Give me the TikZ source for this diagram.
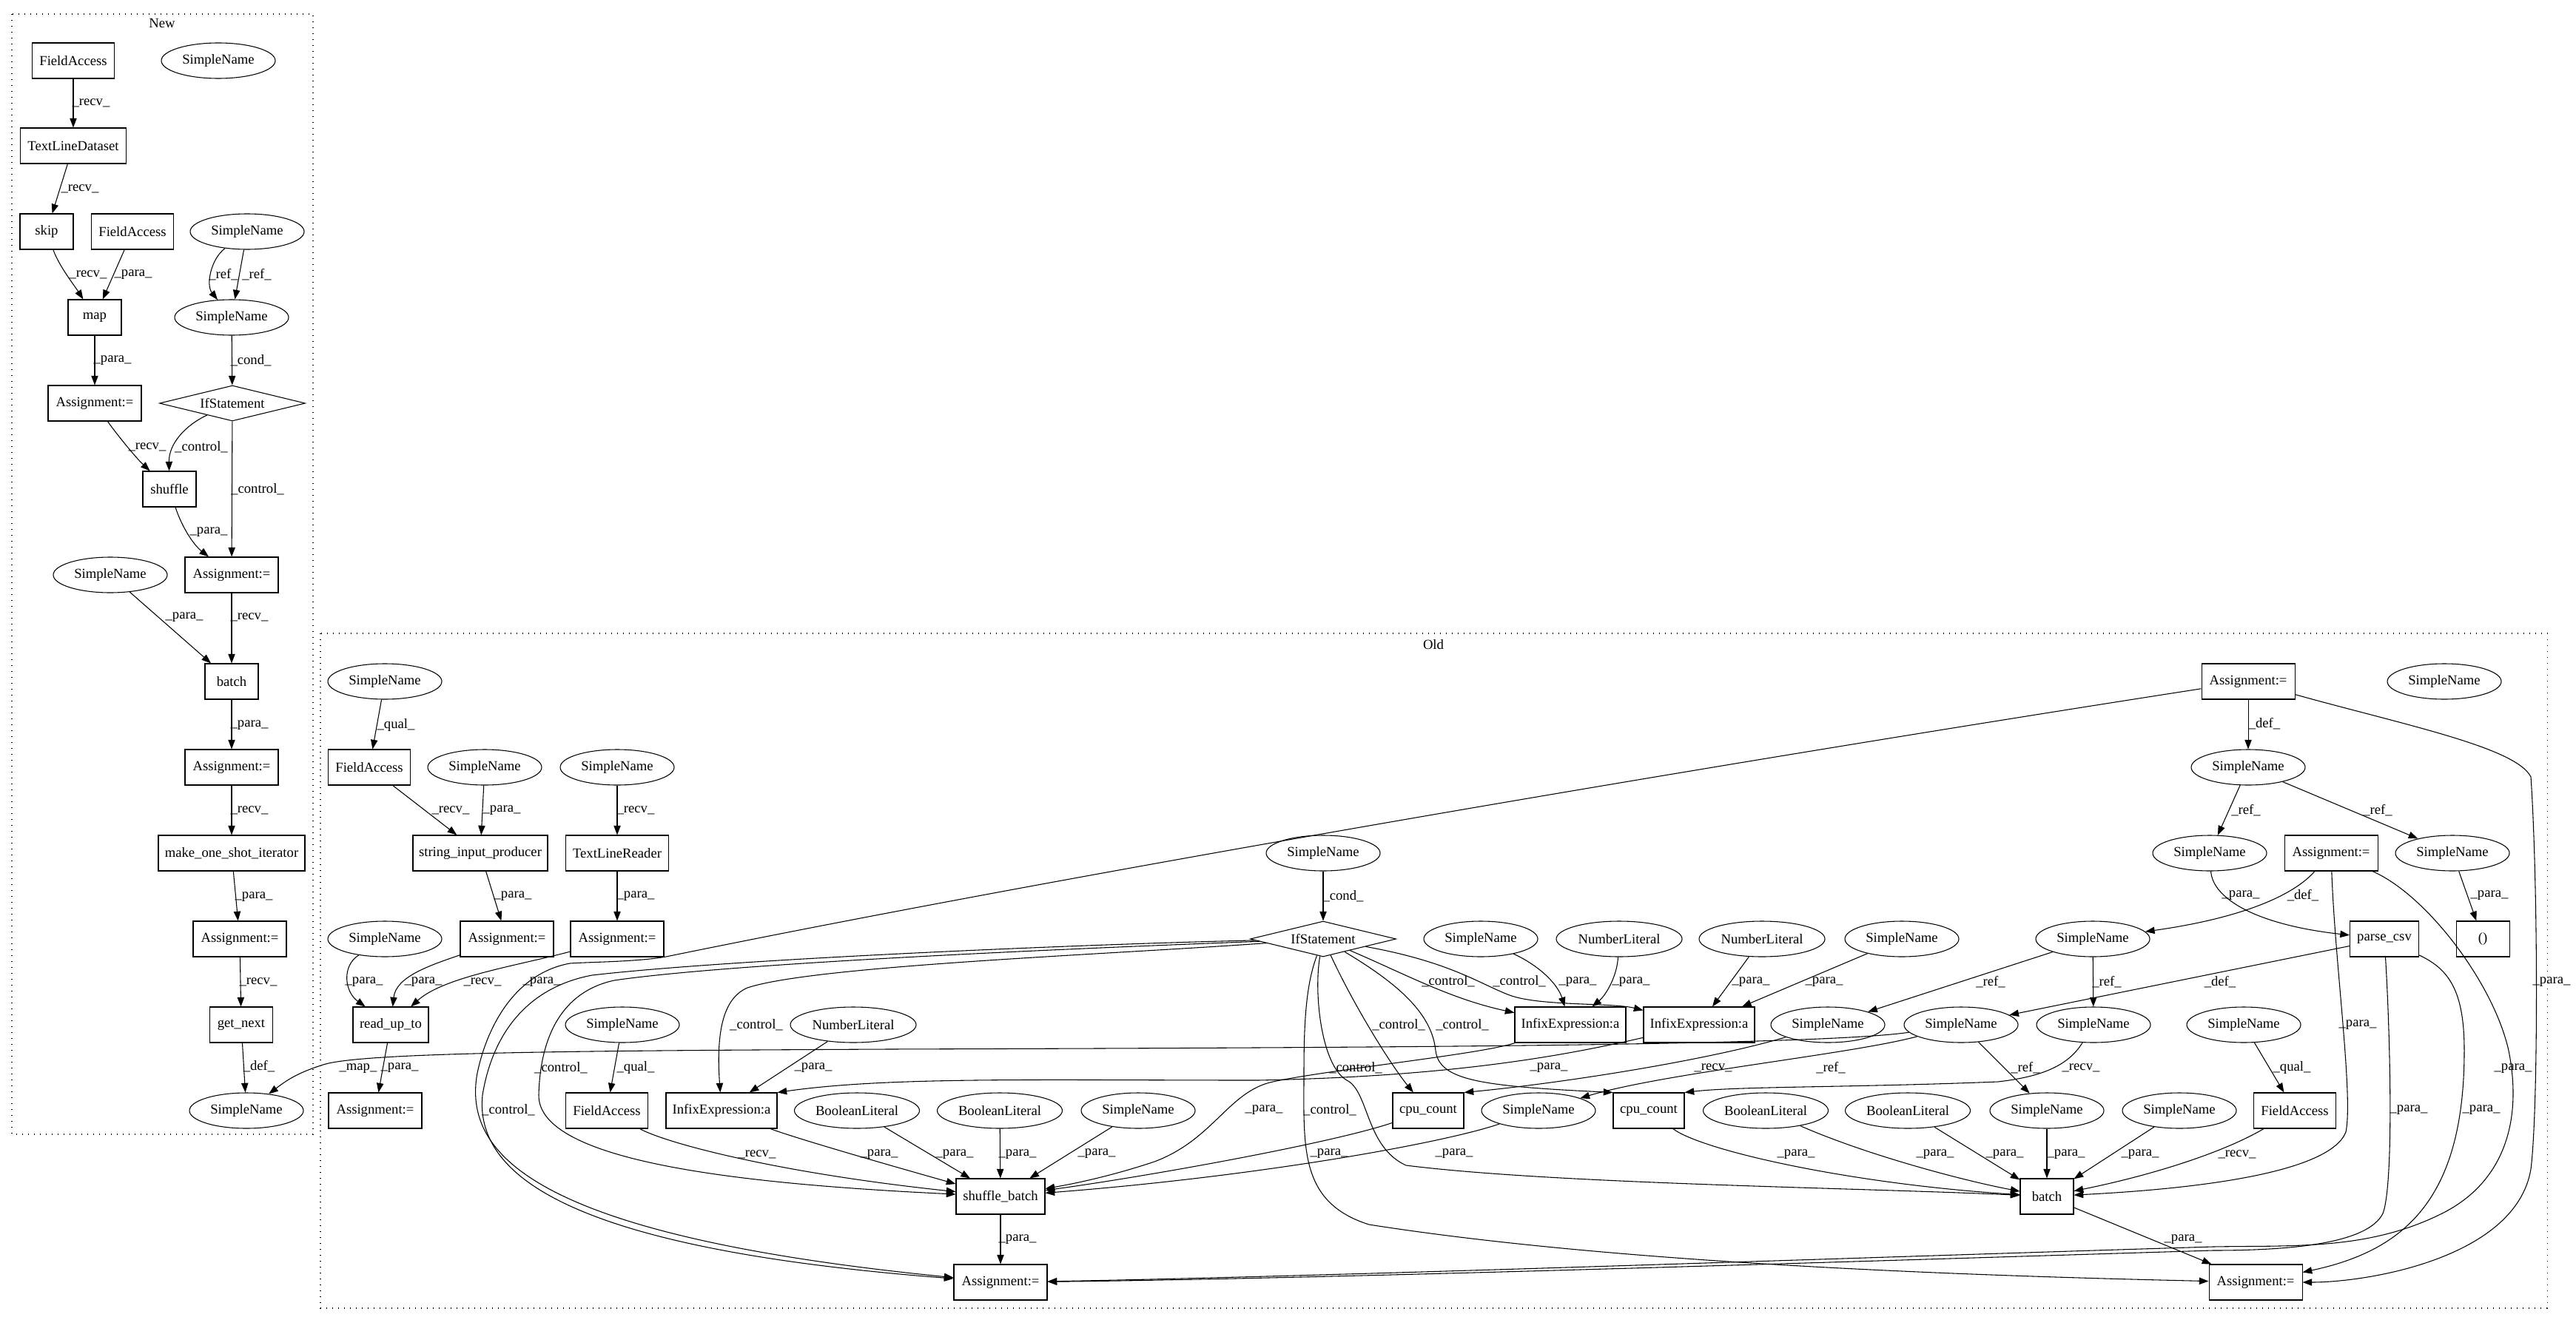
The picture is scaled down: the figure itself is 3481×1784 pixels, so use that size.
\documentclass[tikz,border=0pt]{standalone}
\usepackage{fontspec}
\setmainfont{Liberation Serif}
\usetikzlibrary{shapes.geometric,arrows.meta}
\tikzset{
  every node/.style={font=\fontsize{14pt}{16pt}\selectfont},
  bx/.style={draw, line width=0.8pt, rectangle, minimum width=#1*0.75pt, minimum height=36pt, inner sep=0pt},
  el/.style={draw, line width=0.8pt, ellipse, minimum width=#1*0.75pt, minimum height=36pt, inner sep=0pt},
  sn/.style={el=154},
  dm/.style={draw, line width=0.8pt, diamond, shape aspect=4, minimum width=147.75pt, minimum height=36pt, inner sep=0pt},
  e/.style={draw, line width=0.8pt, -{Triangle[length=9.5pt,width=7pt]}},
  lb/.style={inner sep=0pt},
  cl/.style={draw, line width=0.8pt, dash pattern=on 1pt off 5pt},
}
\begin{document}
\begin{tikzpicture}[x=0.75pt,y=-0.75pt]
\useasboundingbox (0,0) rectangle (3481,1784);
\fill[white] (0,0) rectangle (3481,1784);
% clusters
\draw[cl] (16,19) rectangle (423,1533);
\node[lb] (lnew) at (219,31) {New};
\draw[cl] (433,856) rectangle (3442,1768);
\node[lb] (lold) at (1937,871) {Old};

% ---------------- New nodes
\node[bx=111] (n_fa1) at (99,82) {FieldAccess};
\node[sn] (n_sn0) at (295,82) {SimpleName};
\node[bx=143] (n_tld) at (99,197) {TextLineDataset};
\node[bx=72] (n_skip) at (63,313) {skip};
\node[bx=111] (n_fa2) at (179,313) {FieldAccess};
\node[sn] (n_sn1) at (334,313) {SimpleName};
\node[bx=72] (n_map) at (128,429) {map};
\node[sn] (n_sn2) at (313,429) {SimpleName};
\node[bx=126] (n_as1) at (128,545) {Assignment:=};
\node[dm] (n_if) at (314,545) {IfStatement};
\node[bx=72] (n_shuf) at (229,661) {shuffle};
\node[bx=126] (n_as2) at (313,777) {Assignment:=};
\node[sn] (n_sn3) at (149,777) {SimpleName};
\node[bx=72] (n_batch) at (313,921) {batch};
\node[bx=126] (n_as3) at (313,1037) {Assignment:=};
\node[bx=198] (n_mosi) at (313,1153) {make\_one\_shot\_iterator};
\node[bx=126] (n_as4) at (324,1269) {Assignment:=};
\node[bx=85] (n_gn) at (326,1385) {get\_next};
\node[sn] (n_sn4) at (333,1501) {SimpleName};

% ---------------- Old nodes
\node[sn] (o_sn_q) at (520,921) {SimpleName};
\node[bx=111] (o_fa1) at (499,1037) {FieldAccess};
\node[sn] (o_sn_p) at (655,1037) {SimpleName};
\node[sn] (o_sn_r) at (834,1037) {SimpleName};
\node[bx=182] (o_sip) at (649,1153) {string\_input\_producer};
\node[bx=139] (o_tlr) at (834,1153) {TextLineReader};
\node[sn] (o_sn_rut) at (520,1269) {SimpleName};
\node[bx=126] (o_as_sip) at (685,1269) {Assignment:=};
\node[bx=126] (o_as_tlr) at (834,1269) {Assignment:=};
\node[bx=102] (o_rut) at (528,1385) {read\_up\_to};
\node[bx=126] (o_as_rut) at (507,1501) {Assignment:=};
\node[sn] (o_sn_fq) at (841,1385) {SimpleName};
\node[bx=111] (o_fa2) at (820,1501) {FieldAccess};
\node[el=170] (o_nl1) at (1153,1385) {NumberLiteral};
\node[bx=150] (o_inf1) at (975,1501) {InfixExpression:a};
\node[el=169] (o_bl1) at (1158,1501) {BooleanLiteral};
\node[el=169] (o_bl2) at (1351,1501) {BooleanLiteral};
\node[sn] (o_sn_sb) at (1538,1501) {SimpleName};
\node[bx=120] (o_sb) at (1352,1617) {shuffle\_batch};
\node[bx=126] (o_as_sb) at (1352,1733) {Assignment:=};
\node[sn] (o_sn_cond) at (1788,1153) {SimpleName};
\node[dm] (o_if) at (1788,1269) {IfStatement};
\node[sn] (o_sn_i2) at (2001,1269) {SimpleName};
\node[el=170] (o_nl2) at (2188,1269) {NumberLiteral};
\node[el=170] (o_nl3) at (2381,1269) {NumberLiteral};
\node[sn] (o_sn_i3) at (2570,1269) {SimpleName};
\node[bx=150] (o_inf2) at (2122,1385) {InfixExpression:a};
\node[bx=150] (o_inf3) at (2296,1385) {InfixExpression:a};
\node[bx=96] (o_cpu1) at (1930,1501) {cpu\_count};
\node[sn] (o_sn_m) at (2079,1501) {SimpleName};
\node[bx=96] (o_cpu2) at (2228,1501) {cpu\_count};
\node[el=169] (o_bl3) at (2386,1501) {BooleanLiteral};
\node[el=169] (o_bl4) at (2578,1501) {BooleanLiteral};
\node[bx=126] (o_as_top) at (3038,921) {Assignment:=};
\node[sn] (o_sn_iso) at (3303,921) {SimpleName};
\node[sn] (o_sn_def) at (3038,1037) {SimpleName};
\node[sn] (o_sn_rl) at (2986,1153) {SimpleName};
\node[bx=126] (o_as_mid) at (3150,1153) {Assignment:=};
\node[sn] (o_sn_rr) at (3314,1153) {SimpleName};
\node[sn] (o_sn_x) at (2828,1269) {SimpleName};
\node[bx=93] (o_pcsv) at (3222,1269) {parse\_csv};
\node[bx=72] (o_paren) at (3355,1269) {()};
\node[sn] (o_sn_a) at (2470,1385) {SimpleName};
\node[sn] (o_sn_b) at (2650,1385) {SimpleName};
\node[sn] (o_sn_c) at (2829,1385) {SimpleName};
\node[sn] (o_sn_d) at (3032,1385) {SimpleName};
\node[sn] (o_sn_e) at (2766,1501) {SimpleName};
\node[sn] (o_sn_f) at (2945,1501) {SimpleName};
\node[bx=111] (o_fa3) at (3101,1501) {FieldAccess};
\node[bx=72] (o_batch) at (2766,1617) {batch};
\node[bx=126] (o_as_b) at (3048,1733) {Assignment:=};

% ---------------- New edges
\draw[e] (n_fa1) -- (n_tld) node[lb] at (123,139) {\_recv\_};
\draw[e] (n_tld) -- (n_skip) node[lb] at (108,255) {\_recv\_};
\draw[e] (n_skip) .. controls (80,360) and (100,385) .. (n_map) node[lb] at (119,371) {\_recv\_};
\draw[e] (n_fa2) -- (n_map) node[lb] at (180,371) {\_para\_};
\draw[e] (n_sn1) .. controls (285,350) and (278,385) .. (n_sn2) node[lb] at (302,371) {\_ref\_};
\draw[e] (n_sn1) -- (n_sn2) node[lb] at (347,371) {\_ref\_};
\draw[e] (n_map) -- (n_as1) node[lb] at (152,487) {\_para\_};
\draw[e] (n_sn2) -- (n_if) node[lb] at (339,487) {\_cond\_};
\draw[e] (n_as1) .. controls (160,590) and (185,620) .. (n_shuf) node[lb] at (199,604) {\_recv\_};
\draw[e] (n_if) .. controls (250,575) and (228,600) .. (n_shuf) node[lb] at (272,604) {\_control\_};
\draw[e] (n_if) -- (n_as2) node[lb] at (348,661) {\_control\_};
\draw[e] (n_shuf) .. controls (245,710) and (260,735) .. (n_as2) node[lb] at (282,719) {\_para\_};
\draw[e] (n_as2) -- (n_batch) node[lb] at (337,834) {\_recv\_};
\draw[e] (n_sn3) -- (n_batch) node[lb] at (249,834) {\_para\_};
\draw[e] (n_batch) -- (n_as3) node[lb] at (337,980) {\_para\_};
\draw[e] (n_as3) -- (n_mosi) node[lb] at (337,1095) {\_recv\_};
\draw[e] (n_mosi) -- (n_as4) node[lb] at (343,1212) {\_para\_};
\draw[e] (n_as4) -- (n_gn) node[lb] at (349,1327) {\_recv\_};
\draw[e] (n_gn) -- (n_sn4) node[lb] at (350,1441) {\_def\_};

% map edge from Old to New
\draw[e] (o_sn_b) .. controls (2450,1414) and (1800,1416) .. (1200,1418) .. controls (800,1420) and (500,1422) .. (440,1438) .. controls (400,1450) and (385,1462) .. (n_sn4) node[lb] at (484,1444) {\_map\_};

% ---------------- Old edges, left part
\draw[e] (o_sn_q) -- (o_fa1) node[lb] at (535,980) {\_qual\_};
\draw[e] (o_fa1) -- (o_sip) node[lb] at (609,1095) {\_recv\_};
\draw[e] (o_sn_p) -- (o_sip) node[lb] at (678,1095) {\_para\_};
\draw[e] (o_sn_r) -- (o_tlr) node[lb] at (859,1095) {\_recv\_};
\draw[e] (o_sip) -- (o_as_sip) node[lb] at (693,1211) {\_para\_};
\draw[e] (o_tlr) -- (o_as_tlr) node[lb] at (859,1211) {\_para\_};
\draw[e] (o_sn_rut) .. controls (462,1305) and (465,1340) .. (o_rut) node[lb] at (492,1327) {\_para\_};
\draw[e] (o_as_sip) .. controls (580,1305) and (535,1320) .. (o_rut) node[lb] at (572,1327) {\_para\_};
\draw[e] (o_as_tlr) .. controls (700,1305) and (600,1320) .. (o_rut) node[lb] at (652,1327) {\_recv\_};
\draw[e] (o_rut) -- (o_as_rut) node[lb] at (540,1443) {\_para\_};

% long edges into Assignment / shuffle_batch
\draw[e] (o_as_top) .. controls (2400,1020) and (1500,1170) .. (900,1293) .. controls (860,1300) and (800,1300) .. (770,1302) .. controls (700,1315) and (660,1380) .. (645,1450) .. controls (625,1560) and (720,1670) .. (o_as_sb) node[lb] at (732,1327) {\_para\_};
\draw[e] (o_if) .. controls (1500,1275) and (1000,1295) .. (800,1318) .. controls (710,1335) and (665,1400) .. (652,1480) .. controls (640,1600) and (800,1690) .. (o_as_sb) node[lb] at (687,1500) {\_control\_};
\draw[e] (o_if) .. controls (1500,1280) and (1000,1300) .. (830,1325) .. controls (760,1340) and (730,1400) .. (728,1480) .. controls (727,1570) and (1000,1600) .. (o_sb) node[lb] at (758,1443) {\_control\_};
\draw[e] (o_if) .. controls (1500,1290) and (1100,1305) .. (1010,1335) .. controls (975,1350) and (968,1400) .. (o_inf1) node[lb] at (1022,1385) {\_control\_};

\draw[e] (o_sn_fq) -- (o_fa2) node[lb] at (859,1443) {\_qual\_};
\draw[e] (o_nl1) -- (o_inf1) node[lb] at (1099,1443) {\_para\_};
\draw[e] (o_fa2) .. controls (900,1545) and (1050,1585) .. (o_sb) node[lb] at (1023,1560) {\_recv\_};
\draw[e] (o_inf1) .. controls (1080,1540) and (1220,1580) .. (o_sb) node[lb] at (1188,1560) {\_para\_};
\draw[e] (o_bl1) -- (o_sb) node[lb] at (1290,1560) {\_para\_};
\draw[e] (o_bl2) -- (o_sb) node[lb] at (1375,1560) {\_para\_};
\draw[e] (o_sn_sb) -- (o_sb) node[lb] at (1482,1559) {\_para\_};
\draw[e] (o_sb) -- (o_as_sb) node[lb] at (1375,1675) {\_para\_};
\draw[e] (o_cpu1) .. controls (1800,1545) and (1550,1590) .. (o_sb) node[lb] at (1796,1559) {\_para\_};
\draw[e] (o_sn_m) .. controls (1950,1545) and (1700,1590) .. (o_sb) node[lb] at (1965,1559) {\_para\_};
\draw[e] (o_inf2) .. controls (2000,1425) and (1800,1445) .. (1720,1462) .. controls (1660,1475) and (1640,1540) .. (1560,1570) .. controls (1500,1590) and (1450,1600) .. (o_sb) node[lb] at (1708,1500) {\_para\_};
\draw[e] (o_inf3) .. controls (2100,1430) and (1950,1455) .. (1700,1460) .. controls (1400,1460) and (1200,1455) .. (o_inf1.north east) node[lb] at (2093,1443) {\_para\_};

% ---------------- IfStatement (Old) and the middle
\draw[e] (o_sn_cond) -- (o_if) node[lb] at (1815,1211) {\_cond\_};
\draw[e] (o_if) .. controls (1900,1317) and (1960,1350) .. (o_inf2) node[lb] at (1957,1326) {\_control\_};
\draw[e] (o_if) .. controls (1960,1300) and (2000,1330) .. (2040,1345) .. controls (2080,1360) and (2180,1355) .. (o_inf3) node[lb] at (2053,1326) {\_control\_};
\draw[e] (o_if) .. controls (1830,1360) and (1880,1440) .. (o_cpu1) node[lb] at (1890,1385) {\_control\_};
\draw[e] (o_if) .. controls (1890,1330) and (1935,1370) .. (1940,1420) .. controls (1945,1460) and (2000,1468) .. (o_cpu2.north west) node[lb] at (1976,1385) {\_control\_};
\draw[e] (o_if) .. controls (1775,1340) and (1785,1440) .. (1820,1460) .. controls (1850,1475) and (1845,1550) .. (1900,1575) .. controls (2100,1600) and (2500,1605) .. (o_batch) node[lb] at (1832,1443) {\_control\_};
\draw[e] (o_if) .. controls (1765,1330) and (1762,1380) .. (1762,1450) .. controls (1762,1550) and (1755,1625) .. (1850,1655) .. controls (2200,1710) and (2700,1725) .. (o_as_b) node[lb] at (1797,1500) {\_control\_};

\draw[e] (o_sn_i2) .. controls (2080,1305) and (2105,1330) .. (o_inf2) node[lb] at (2132,1327) {\_para\_};
\draw[e] (o_nl2) .. controls (2185,1320) and (2170,1345) .. (o_inf2) node[lb] at (2204,1327) {\_para\_};
\draw[e] (o_nl3) -- (o_inf3) node[lb] at (2366,1327) {\_para\_};
\draw[e] (o_sn_i3) -- (o_inf3) node[lb] at (2465,1327) {\_para\_};

% ---------------- right part
\draw[e] (o_as_top) -- (o_sn_def) node[lb] at (3060,978) {\_def\_};
\draw[e] (o_as_top) .. controls (3250,980) and (3400,1010) .. (3420,1050) .. controls (3430,1200) and (3430,1500) .. (3420,1580) .. controls (3400,1700) and (3200,1733) .. (o_as_b) node[lb] at (3448,1327) {\_para\_};
\draw[e] (o_sn_def) -- (o_sn_rl) node[lb] at (3035,1095) {\_ref\_};
\draw[e] (o_sn_def) -- (o_sn_rr) node[lb] at (3213,1095) {\_ref\_};
\draw[e] (o_sn_rl) .. controls (2990,1215) and (3050,1250) .. (o_pcsv) node[lb] at (3028,1210) {\_para\_};
\draw[e] (o_as_mid) .. controls (3090,1220) and (3000,1245) .. (o_sn_x) node[lb] at (3112,1210) {\_def\_};
\draw[e] (o_sn_rr) -- (o_paren) node[lb] at (3364,1210) {\_para\_};
\draw[e] (o_as_mid) .. controls (3155,1300) and (3180,1480) .. (3170,1530) .. controls (3150,1580) and (3000,1605) .. (o_batch) node[lb] at (3186,1385) {\_para\_};
\draw[e] (o_as_mid) .. controls (3280,1210) and (3370,1330) .. (3390,1420) .. controls (3410,1520) and (3380,1600) .. (3300,1640) .. controls (3200,1690) and (3100,1683) .. (2990,1685) .. controls (2500,1700) and (1800,1725) .. (o_as_sb) node[lb] at (3396,1444) {\_para\_};
\draw[e] (o_pcsv) .. controls (3230,1400) and (3235,1600) .. (3220,1640) .. controls (3200,1680) and (3100,1690) .. (2990,1690) .. controls (2500,1705) and (1800,1728) .. (o_as_sb) node[lb] at (3255,1500) {\_para\_};
\draw[e] (o_pcsv) .. controls (3310,1310) and (3330,1340) .. (3330,1420) .. controls (3330,1620) and (3250,1690) .. (o_as_b) node[lb] at (3353,1500) {\_para\_};
\draw[e] (o_pcsv) -- (o_sn_b) node[lb] at (3000,1327) {\_def\_};
\draw[e] (o_sn_x) -- (o_sn_a) node[lb] at (2690,1327) {\_ref\_};
\draw[e] (o_sn_x) -- (o_sn_c) node[lb] at (2847,1327) {\_ref\_};
\draw[e] (o_sn_b) -- (o_sn_e) node[lb] at (2737,1443) {\_ref\_};
\draw[e] (o_sn_c) .. controls (2795,1440) and (2760,1455) .. (2700,1462) .. controls (2500,1470) and (2350,1468) .. (o_cpu2.north east) node[lb] at (2812,1443) {\_recv\_};
\draw[e] (o_sn_b) .. controls (2500,1425) and (2250,1450) .. (o_sn_m) node[lb] at (2474,1443) {\_ref\_};
\draw[e] (o_sn_a) .. controls (2300,1435) and (2100,1465) .. (o_cpu1.north east) node[lb] at (2315,1443) {\_recv\_};
\draw[e] (o_sn_d) -- (o_fa3) node[lb] at (3097,1443) {\_qual\_};
\draw[e] (o_fa3) .. controls (3000,1560) and (2900,1590) .. (o_batch) node[lb] at (3023,1560) {\_recv\_};
\draw[e] (o_sn_f) -- (o_batch) node[lb] at (2892,1560) {\_para\_};
\draw[e] (o_sn_e) -- (o_batch) node[lb] at (2792,1560) {\_para\_};
\draw[e] (o_bl4) -- (o_batch) node[lb] at (2709,1560) {\_para\_};
\draw[e] (o_bl3) .. controls (2520,1560) and (2650,1595) .. (o_batch) node[lb] at (2615,1560) {\_para\_};
\draw[e] (o_cpu2) .. controls (2300,1555) and (2500,1600) .. (o_batch) node[lb] at (2427,1560) {\_para\_};
\draw[e] (o_batch) -- (o_as_b) node[lb] at (2950,1675) {\_para\_};
\end{tikzpicture}
\end{document}
